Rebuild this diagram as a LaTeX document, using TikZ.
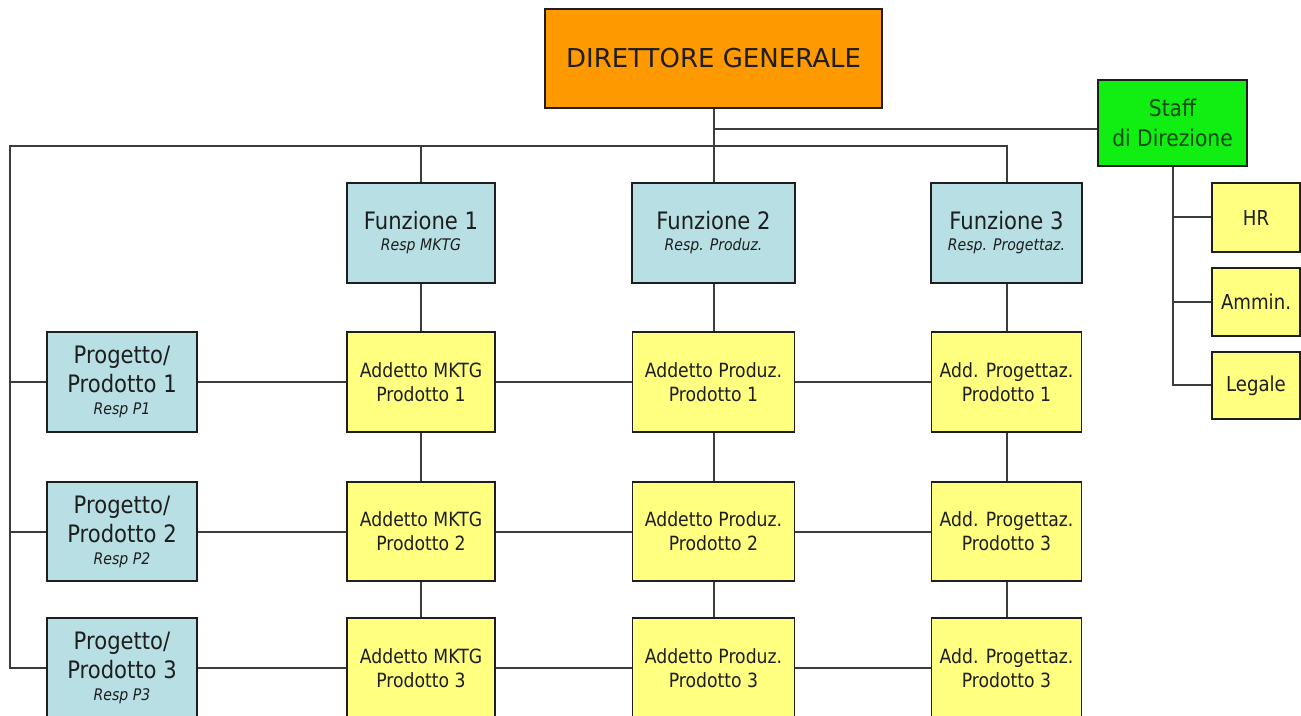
\documentclass[tikz,border=0pt]{standalone}
\usepackage{fontspec}
\setmainfont{DejaVu Sans}[FakeStretch=0.88]
\newfontfamily\dgfont{DejaVu Sans}
\usetikzlibrary{calc}
\definecolor{orng}{HTML}{FF9900}
\definecolor{lblue}{HTML}{B8DFE3}
\definecolor{lyel}{HTML}{FFFF80}
\definecolor{stgreen}{HTML}{11EE11}
\definecolor{ink}{HTML}{1E1E1E}
\definecolor{wirec}{HTML}{3C3C3C}
\definecolor{sttext}{HTML}{0B4A0B}
\begin{document}
\begin{tikzpicture}[x=0.5pt,y=-0.5pt,
  box/.style={draw=ink, line width=0.9pt, inner sep=0pt, align=center, text=ink},
  sz/.style 2 args={minimum width=#1*0.5pt, minimum height=#2*0.5pt},
  blu/.style={box, fill=lblue, font=\fontsize{12}{14}\selectfont},
  yel/.style={box, fill=lyel, font=\fontsize{9.8}{12}\selectfont},
  stf/.style={box, fill=lyel, font=\fontsize{10.3}{12}\selectfont},
  wire/.style={draw=wirec, line width=1pt}]
\useasboundingbox (0,0) rectangle (1301,716);
\fill[white] (0,0) rectangle (1301,716);

% top
\node[box, fill=orng, sz={337}{99}, font=\dgfont\fontsize{13}{15}\selectfont] (dg) at (713.5,58.5) {DIRETTORE GENERALE};
\node[box, fill=stgreen, sz={149}{86}, text=sttext, font=\fontsize{11.5}{15}\selectfont] (staff) at (1172.5,123) {Staff\\di Direzione};

% functions
\node[blu, sz={148}{100}] (f1) at (421,233) {Funzione 1\\[-3.5pt]{\fontsize{8}{10}\selectfont\itshape Resp MKTG}};
\node[blu, sz={163}{100}] (f2) at (713.5,233) {Funzione 2\\[-3.5pt]{\fontsize{8}{10}\selectfont\itshape Resp. Produz.}};
\node[blu, sz={151}{100}] (f3) at (1006.5,233) {Funzione 3\\[-3.5pt]{\fontsize{8}{10}\selectfont\itshape Resp. Progettaz.}};

% projects
\node[blu, sz={150}{100}] (p1) at (122,382) {Progetto/\\[0.5pt]Prodotto 1\\[-3pt]{\fontsize{8}{10}\selectfont\itshape Resp P1}};
\node[blu, sz={150}{99}] (p2) at (122,531.5) {Progetto/\\[0.5pt]Prodotto 2\\[-3pt]{\fontsize{8}{10}\selectfont\itshape Resp P2}};
\node[blu, sz={150}{100}] (p3) at (122,668) {Progetto/\\[0.5pt]Prodotto 3\\[-3pt]{\fontsize{8}{10}\selectfont\itshape Resp P3}};

% matrix cells
\node[yel, sz={148}{100}] (a11) at (421,382) {Addetto MKTG\\Prodotto 1};
\node[yel, sz={162}{100}] (a12) at (713.5,382) {Addetto Produz.\\Prodotto 1};
\node[yel, sz={150}{100}] (a13) at (1006.5,382) {Add. Progettaz.\\Prodotto 1};
\node[yel, sz={148}{99}] (a21) at (421,531.5) {Addetto MKTG\\Prodotto 2};
\node[yel, sz={162}{99}] (a22) at (713.5,531.5) {Addetto Produz.\\Prodotto 2};
\node[yel, sz={150}{99}] (a23) at (1006.5,531.5) {Add. Progettaz.\\Prodotto 3};
\node[yel, sz={148}{100}] (a31) at (421,668) {Addetto MKTG\\Prodotto 3};
\node[yel, sz={162}{100}] (a32) at (713.5,668) {Addetto Produz.\\Prodotto 3};
\node[yel, sz={150}{100}] (a33) at (1006.5,668) {Add. Progettaz.\\Prodotto 3};

% staff units
\node[stf, sz={88}{69}] (hr) at (1256,217.5) {HR};
\node[stf, sz={88}{68}] (amm) at (1256,302) {Ammin.};
\node[stf, sz={88}{67}] (leg) at (1256,385.5) {Legale};

% connectors
\coordinate (lt) at (10,146);
\coordinate (sj) at ($(staff.west)+(0,6)$);
\draw[wire] (dg) -- (f2);
\draw[wire] (sj) -- (sj -| dg.south);
\draw[wire] (f3.north) |- (lt) |- (p3.west);
\draw[wire] (f1.north) -- (f1.north |- lt);
\draw[wire] (lt |- p1.west) -- (p1.west);
\draw[wire] (lt |- p2.west) -- (p2.west);

\draw[wire] (p1) -- (a11) -- (a12) -- (a13);
\draw[wire] (p2) -- (a21) -- (a22) -- (a23);
\draw[wire] (p3) -- (a31) -- (a32) -- (a33);
\draw[wire] (f1) -- (a11) -- (a21) -- (a31);
\draw[wire] (f2) -- (a12) -- (a22) -- (a32);
\draw[wire] (f3) -- (a13) -- (a23) -- (a33);

\draw[wire] (staff.south) |- (leg.west);
\draw[wire] (staff.south |- hr.west) -- (hr.west);
\draw[wire] (staff.south |- amm.west) -- (amm.west);
\end{tikzpicture}
\end{document}
